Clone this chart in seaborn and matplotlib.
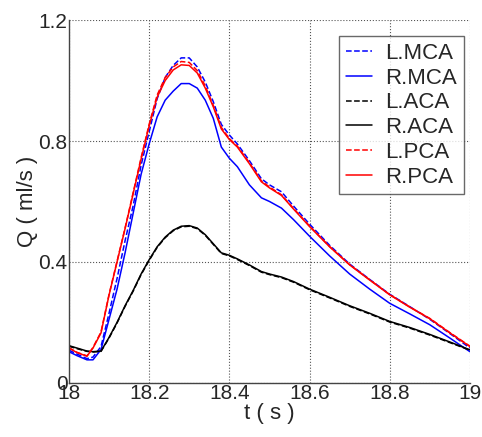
import numpy as np
import pandas as pd
import matplotlib
matplotlib.use("Agg")
import matplotlib.pyplot as plt
import seaborn as sns

t = [18.00, 18.02, 18.045, 18.06, 18.08, 18.10, 18.12, 18.14, 18.16, 18.18,
     18.20, 18.22, 18.24, 18.26, 18.28, 18.30, 18.32, 18.34, 18.36, 18.38,
     18.40, 18.42, 18.45, 18.48, 18.50, 18.53, 18.56, 18.60, 18.65, 18.70,
     18.75, 18.80, 18.85, 18.90, 18.95, 19.00]

l_mca = [0.108, 0.095, 0.080, 0.085, 0.120, 0.230, 0.345, 0.470, 0.585, 0.720,
         0.830, 0.940, 1.010, 1.050, 1.075, 1.075, 1.045, 0.995, 0.930, 0.855,
         0.820, 0.790, 0.735, 0.675, 0.655, 0.632, 0.585, 0.525, 0.455, 0.393,
         0.342, 0.293, 0.252, 0.210, 0.163, 0.115]
r_mca = [0.103, 0.090, 0.076, 0.076, 0.110, 0.210, 0.310, 0.430, 0.560, 0.690,
         0.790, 0.880, 0.935, 0.965, 0.990, 0.990, 0.975, 0.935, 0.875, 0.780,
         0.743, 0.715, 0.655, 0.612, 0.600, 0.578, 0.540, 0.485, 0.420, 0.360,
         0.310, 0.263, 0.228, 0.192, 0.148, 0.103]
l_aca = [0.121, 0.113, 0.104, 0.102, 0.104, 0.148, 0.198, 0.253, 0.303, 0.358,
         0.405, 0.448, 0.480, 0.503, 0.516, 0.518, 0.510, 0.488, 0.458, 0.428,
         0.420, 0.408, 0.388, 0.366, 0.358, 0.348, 0.333, 0.308, 0.281, 0.253,
         0.228, 0.201, 0.181, 0.158, 0.133, 0.108]
r_aca = [0.123, 0.115, 0.105, 0.103, 0.105, 0.150, 0.200, 0.255, 0.305, 0.360,
         0.407, 0.450, 0.482, 0.505, 0.518, 0.520, 0.512, 0.490, 0.460, 0.430,
         0.422, 0.410, 0.390, 0.368, 0.360, 0.350, 0.335, 0.310, 0.283, 0.255,
         0.230, 0.203, 0.183, 0.160, 0.135, 0.109]
l_pca = [0.116, 0.101, 0.089, 0.117, 0.168, 0.292, 0.402, 0.512, 0.628, 0.745,
         0.855, 0.952, 1.010, 1.045, 1.063, 1.060, 1.033, 0.982, 0.918, 0.845,
         0.808, 0.783, 0.728, 0.668, 0.648, 0.622, 0.577, 0.519, 0.451, 0.391,
         0.341, 0.292, 0.251, 0.213, 0.166, 0.121]
r_pca = [0.115, 0.100, 0.088, 0.115, 0.165, 0.290, 0.400, 0.510, 0.625, 0.740,
         0.850, 0.945, 1.000, 1.035, 1.052, 1.050, 1.025, 0.975, 0.913, 0.840,
         0.805, 0.780, 0.725, 0.665, 0.645, 0.620, 0.575, 0.517, 0.450, 0.390,
         0.340, 0.291, 0.250, 0.212, 0.165, 0.120]

series = [("L.MCA", l_mca, "blue", "--"), ("R.MCA", r_mca, "blue", "-"),
          ("L.ACA", l_aca, "black", "--"), ("R.ACA", r_aca, "black", "-"),
          ("L.PCA", l_pca, "red", "--"), ("R.PCA", r_pca, "red", "-")]

xticks = [18, 18.2, 18.4, 18.6, 18.8, 19]
xticklabels = ["18", "18.2", "18.4", "18.6", "18.8", "19"]
yticks = [0, 0.4, 0.8, 1.2]
yticklabels = ["0", "0.4", "0.8", "1.2"]

sns.set_style("white")
plt.rcParams["font.family"] = ["Liberation Sans", "DejaVu Sans"]

fig = plt.figure(figsize=(4.82, 4.37), dpi=100)
ax = fig.add_axes([0.143, 0.124, 0.832, 0.830])

for name, vals, col, ls in series:
    df = pd.DataFrame({"t": t, "Q": vals})
    sns.lineplot(data=df, x="t", y="Q", ax=ax, color=col, linestyle=ls,
                 linewidth=1.1, label=name)

ax.set_xlim(18, 19)
ax.set_ylim(0, 1.2)
ax.set_xticks(xticks)
ax.set_xticklabels(xticklabels)
ax.set_yticks(yticks)
ax.set_yticklabels(yticklabels)
ax.tick_params(labelsize=15, length=0, pad=1)
ax.grid(True, color="#555555", linestyle=":", linewidth=0.8)
for s in ["top", "right"]:
    ax.spines[s].set_visible(False)
for s in ["left", "bottom"]:
    ax.spines[s].set_color("#444444")
    ax.spines[s].set_linewidth(1.0)
ax.set_xlabel("t ( s )", fontsize=16, labelpad=0)
ax.set_ylabel("Q ( ml/s )", fontsize=16, labelpad=0)

leg = ax.legend(loc="upper right", bbox_to_anchor=(0.985, 0.956), fontsize=16,
                frameon=True, fancybox=False, handlelength=1.2,
                labelspacing=0.17, borderpad=0.3, borderaxespad=0,
                handletextpad=0.6)
leg.get_frame().set_edgecolor("#444444")
leg.get_frame().set_linewidth(1.0)

fig.savefig("out.png", dpi=100)
